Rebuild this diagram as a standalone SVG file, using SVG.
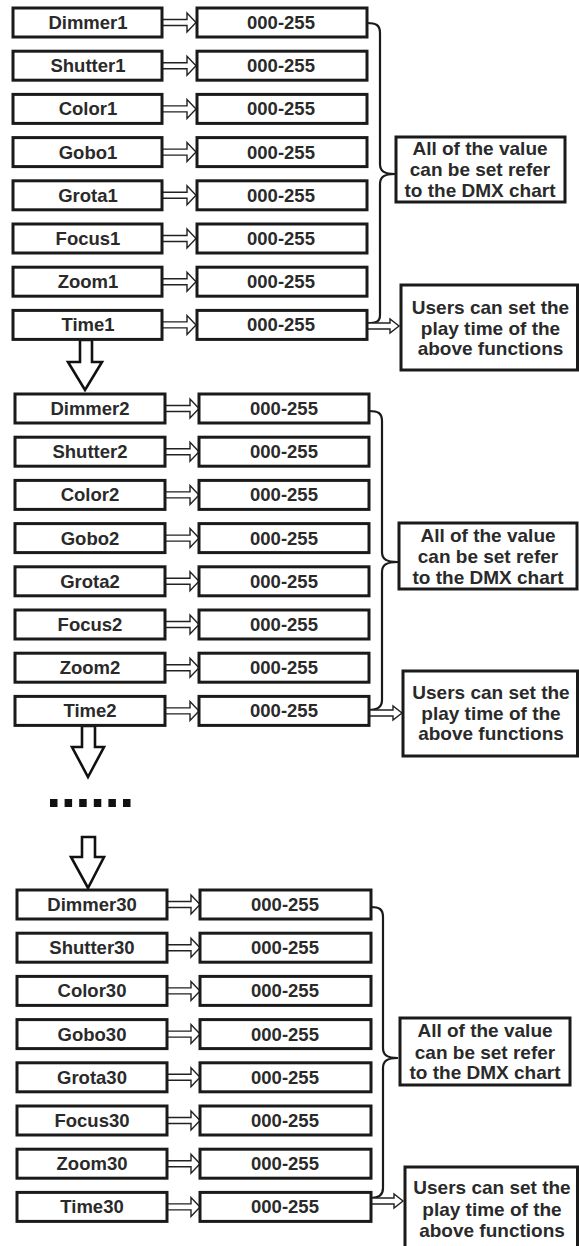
<svg xmlns="http://www.w3.org/2000/svg" xmlns:xlink="http://www.w3.org/1999/xlink" width="579" height="1246" viewBox="0 0 579 1246">
<style>
.box{fill:#fff;stroke:#1a1a1a;stroke-width:3}
.lbl{font-family:"Liberation Sans",Arial,sans-serif;font-weight:bold;font-size:18.5px;fill:#2a2a2a;text-anchor:middle}
.note{font-family:"Liberation Sans",Arial,sans-serif;font-weight:bold;font-size:19px;fill:#2a2a2a;text-anchor:middle}
.arr{fill:#fff;stroke:#222;stroke-width:1.4;stroke-linejoin:miter}
.brace{fill:none;stroke:#1a1a1a;stroke-width:2.2}
.down{fill:#fff;stroke:#111;stroke-width:2.6;stroke-linejoin:miter}
</style>
<defs>
<path id="ra" d="M0,-3 H25 V-9.5 L34,0 L25,9.5 V3 H0"/>
</defs>
<rect width="579" height="1246" fill="#fff"/>

<g id="connectors">
<g class="arr">
<use xlink:href="#ra" transform="translate(162,22.5)"/>
<use xlink:href="#ra" transform="translate(162,65.7)"/>
<use xlink:href="#ra" transform="translate(162,108.9)"/>
<use xlink:href="#ra" transform="translate(162,152.1)"/>
<use xlink:href="#ra" transform="translate(162,195.3)"/>
<use xlink:href="#ra" transform="translate(162,238.5)"/>
<use xlink:href="#ra" transform="translate(162,281.7)"/>
<use xlink:href="#ra" transform="translate(162,324.9)"/>
<use xlink:href="#ra" transform="translate(165,408.5)"/>
<use xlink:href="#ra" transform="translate(165,451.7)"/>
<use xlink:href="#ra" transform="translate(165,494.9)"/>
<use xlink:href="#ra" transform="translate(165,538.1)"/>
<use xlink:href="#ra" transform="translate(165,581.3)"/>
<use xlink:href="#ra" transform="translate(165,624.5)"/>
<use xlink:href="#ra" transform="translate(165,667.7)"/>
<use xlink:href="#ra" transform="translate(165,710.9)"/>
<use xlink:href="#ra" transform="translate(166,904.5)"/>
<use xlink:href="#ra" transform="translate(166,947.7)"/>
<use xlink:href="#ra" transform="translate(166,990.9)"/>
<use xlink:href="#ra" transform="translate(166,1034.1)"/>
<use xlink:href="#ra" transform="translate(166,1077.3)"/>
<use xlink:href="#ra" transform="translate(166,1120.5)"/>
<use xlink:href="#ra" transform="translate(166,1163.7)"/>
<use xlink:href="#ra" transform="translate(166,1206.9)"/>
</g>
<path class="brace" d="M367,23 C376,23 380,25 380,33 V164 C380,171 384,174 395,174 M395,174 C384,174 380,177 380,184 V315 C380,322 376,323 367,323"/>
<path class="brace" d="M369,411 C378,411 382,413 382,421 V552 C382,559 386,562 398,562 M398,562 C386,562 382,565 382,572 V700 C382,707 378,710 369,710"/>
<path class="brace" d="M371,907 C379,907 383,909 383,917 V1048 C383,1055 387,1058 398,1058 M398,1058 C387,1058 383,1061 383,1068 V1188 C383,1195 379,1198 371,1198"/>
<path class="arr" d="M367,323 H390 V319 L399,326 L390,333 V329 H367"/>
<path class="arr" d="M369,710 H393 V706 L402,713 L393,720 V716 H369"/>
<path class="arr" d="M371,1198 H394 V1194 L403,1201 L394,1208 V1204 H371"/>
<polygon class="down" points="80,340 92,340 92,362 102,362 85,390 68,362 80,362"/>
<polygon class="down" points="82,726 95,726 95,747 104,747 88,777 72,747 82,747"/>
<polygon class="down" points="82,837 95,837 95,857 104,857 88,888 71,857 82,857"/>
</g>

<g id="dots" fill="#111">
<rect x="50" y="799" width="7.5" height="8"/>
<rect x="64.6" y="799" width="7.5" height="8"/>
<rect x="79.2" y="799" width="7.5" height="8"/>
<rect x="93.8" y="799" width="7.5" height="8"/>
<rect x="108.4" y="799" width="7.5" height="8"/>
<rect x="123" y="799" width="7.5" height="8"/>
</g>

<g id="dimmer1"><rect class="box" x="13" y="8" width="149" height="29"/><text class="lbl" x="88" y="29">Dimmer1</text></g>
<g id="shutter1"><rect class="box" x="13" y="51.2" width="149" height="29"/><text class="lbl" x="88" y="72.2">Shutter1</text></g>
<g id="color1"><rect class="box" x="13" y="94.4" width="149" height="29"/><text class="lbl" x="88" y="115.4">Color1</text></g>
<g id="gobo1"><rect class="box" x="13" y="137.6" width="149" height="29"/><text class="lbl" x="88" y="158.6">Gobo1</text></g>
<g id="grota1"><rect class="box" x="13" y="180.8" width="149" height="29"/><text class="lbl" x="88" y="201.8">Grota1</text></g>
<g id="focus1"><rect class="box" x="13" y="224" width="149" height="29"/><text class="lbl" x="88" y="245">Focus1</text></g>
<g id="zoom1"><rect class="box" x="13" y="267.2" width="149" height="29"/><text class="lbl" x="88" y="288.2">Zoom1</text></g>
<g id="time1"><rect class="box" x="13" y="310.4" width="149" height="29"/><text class="lbl" x="88" y="331.4">Time1</text></g>

<g id="val1-1"><rect class="box" x="197" y="8" width="170" height="29"/><text class="lbl" x="281" y="29">000-255</text></g>
<g id="val1-2"><rect class="box" x="197" y="51.2" width="170" height="29"/><text class="lbl" x="281" y="72.2">000-255</text></g>
<g id="val1-3"><rect class="box" x="197" y="94.4" width="170" height="29"/><text class="lbl" x="281" y="115.4">000-255</text></g>
<g id="val1-4"><rect class="box" x="197" y="137.6" width="170" height="29"/><text class="lbl" x="281" y="158.6">000-255</text></g>
<g id="val1-5"><rect class="box" x="197" y="180.8" width="170" height="29"/><text class="lbl" x="281" y="201.8">000-255</text></g>
<g id="val1-6"><rect class="box" x="197" y="224" width="170" height="29"/><text class="lbl" x="281" y="245">000-255</text></g>
<g id="val1-7"><rect class="box" x="197" y="267.2" width="170" height="29"/><text class="lbl" x="281" y="288.2">000-255</text></g>
<g id="val1-8"><rect class="box" x="197" y="310.4" width="170" height="29"/><text class="lbl" x="281" y="331.4">000-255</text></g>

<g id="dimmer2"><rect class="box" x="15" y="394" width="150" height="29"/><text class="lbl" x="90" y="415">Dimmer2</text></g>
<g id="shutter2"><rect class="box" x="15" y="437.2" width="150" height="29"/><text class="lbl" x="90" y="458.2">Shutter2</text></g>
<g id="color2"><rect class="box" x="15" y="480.4" width="150" height="29"/><text class="lbl" x="90" y="501.4">Color2</text></g>
<g id="gobo2"><rect class="box" x="15" y="523.6" width="150" height="29"/><text class="lbl" x="90" y="544.6">Gobo2</text></g>
<g id="grota2"><rect class="box" x="15" y="566.8" width="150" height="29"/><text class="lbl" x="90" y="587.8">Grota2</text></g>
<g id="focus2"><rect class="box" x="15" y="610" width="150" height="29"/><text class="lbl" x="90" y="631">Focus2</text></g>
<g id="zoom2"><rect class="box" x="15" y="653.2" width="150" height="29"/><text class="lbl" x="90" y="674.2">Zoom2</text></g>
<g id="time2"><rect class="box" x="15" y="696.4" width="150" height="29"/><text class="lbl" x="90" y="717.4">Time2</text></g>

<g id="val2-1"><rect class="box" x="199" y="394" width="170" height="29"/><text class="lbl" x="284" y="415">000-255</text></g>
<g id="val2-2"><rect class="box" x="199" y="437.2" width="170" height="29"/><text class="lbl" x="284" y="458.2">000-255</text></g>
<g id="val2-3"><rect class="box" x="199" y="480.4" width="170" height="29"/><text class="lbl" x="284" y="501.4">000-255</text></g>
<g id="val2-4"><rect class="box" x="199" y="523.6" width="170" height="29"/><text class="lbl" x="284" y="544.6">000-255</text></g>
<g id="val2-5"><rect class="box" x="199" y="566.8" width="170" height="29"/><text class="lbl" x="284" y="587.8">000-255</text></g>
<g id="val2-6"><rect class="box" x="199" y="610" width="170" height="29"/><text class="lbl" x="284" y="631">000-255</text></g>
<g id="val2-7"><rect class="box" x="199" y="653.2" width="170" height="29"/><text class="lbl" x="284" y="674.2">000-255</text></g>
<g id="val2-8"><rect class="box" x="199" y="696.4" width="170" height="29"/><text class="lbl" x="284" y="717.4">000-255</text></g>

<g id="dimmer30"><rect class="box" x="17" y="890" width="150" height="29"/><text class="lbl" x="92" y="911">Dimmer30</text></g>
<g id="shutter30"><rect class="box" x="17" y="933.2" width="150" height="29"/><text class="lbl" x="92" y="954.2">Shutter30</text></g>
<g id="color30"><rect class="box" x="17" y="976.4" width="150" height="29"/><text class="lbl" x="92" y="997.4">Color30</text></g>
<g id="gobo30"><rect class="box" x="17" y="1019.6" width="150" height="29"/><text class="lbl" x="92" y="1040.6">Gobo30</text></g>
<g id="grota30"><rect class="box" x="17" y="1062.8" width="150" height="29"/><text class="lbl" x="92" y="1083.8">Grota30</text></g>
<g id="focus30"><rect class="box" x="17" y="1106" width="150" height="29"/><text class="lbl" x="92" y="1127">Focus30</text></g>
<g id="zoom30"><rect class="box" x="17" y="1149.2" width="150" height="29"/><text class="lbl" x="92" y="1170.2">Zoom30</text></g>
<g id="time30"><rect class="box" x="17" y="1192.4" width="150" height="29"/><text class="lbl" x="92" y="1213.4">Time30</text></g>

<g id="val30-1"><rect class="box" x="200" y="890" width="171" height="29"/><text class="lbl" x="285" y="911">000-255</text></g>
<g id="val30-2"><rect class="box" x="200" y="933.2" width="171" height="29"/><text class="lbl" x="285" y="954.2">000-255</text></g>
<g id="val30-3"><rect class="box" x="200" y="976.4" width="171" height="29"/><text class="lbl" x="285" y="997.4">000-255</text></g>
<g id="val30-4"><rect class="box" x="200" y="1019.6" width="171" height="29"/><text class="lbl" x="285" y="1040.6">000-255</text></g>
<g id="val30-5"><rect class="box" x="200" y="1062.8" width="171" height="29"/><text class="lbl" x="285" y="1083.8">000-255</text></g>
<g id="val30-6"><rect class="box" x="200" y="1106" width="171" height="29"/><text class="lbl" x="285" y="1127">000-255</text></g>
<g id="val30-7"><rect class="box" x="200" y="1149.2" width="171" height="29"/><text class="lbl" x="285" y="1170.2">000-255</text></g>
<g id="val30-8"><rect class="box" x="200" y="1192.4" width="171" height="29"/><text class="lbl" x="285" y="1213.4">000-255</text></g>

<g id="note1"><rect class="box" x="396" y="137" width="169" height="65"/>
<text class="note" x="480" y="154.5">All of the value</text>
<text class="note" x="480" y="175.5">can be set refer</text>
<text class="note" x="480" y="196.5">to the DMX chart</text></g>
<g id="users1"><rect class="box" x="401" y="285" width="176.5" height="85"/>
<text class="note" x="490.5" y="313.5">Users can set the</text>
<text class="note" x="490.5" y="334.5">play time of the</text>
<text class="note" x="490.5" y="354.5">above functions</text></g>

<g id="note2"><rect class="box" x="399" y="523" width="178" height="66"/>
<text class="note" x="488" y="541.5">All of the value</text>
<text class="note" x="488" y="562.5">can be set refer</text>
<text class="note" x="488" y="583.5">to the DMX chart</text></g>
<g id="users2"><rect class="box" x="403" y="671" width="174.5" height="85"/>
<text class="note" x="491" y="698.5">Users can set the</text>
<text class="note" x="491" y="719.5">play time of the</text>
<text class="note" x="491" y="739.5">above functions</text></g>

<g id="note3"><rect class="box" x="400" y="1018" width="170" height="67"/>
<text class="note" x="485" y="1036.5">All of the value</text>
<text class="note" x="485" y="1058.5">can be set refer</text>
<text class="note" x="485" y="1078.5">to the DMX chart</text></g>
<g id="users3"><rect class="box" x="405" y="1167" width="172.5" height="95"/>
<text class="note" x="492" y="1193.5">Users can set the</text>
<text class="note" x="492" y="1215.5">play time of the</text>
<text class="note" x="492" y="1236.5">above functions</text></g>
</svg>
